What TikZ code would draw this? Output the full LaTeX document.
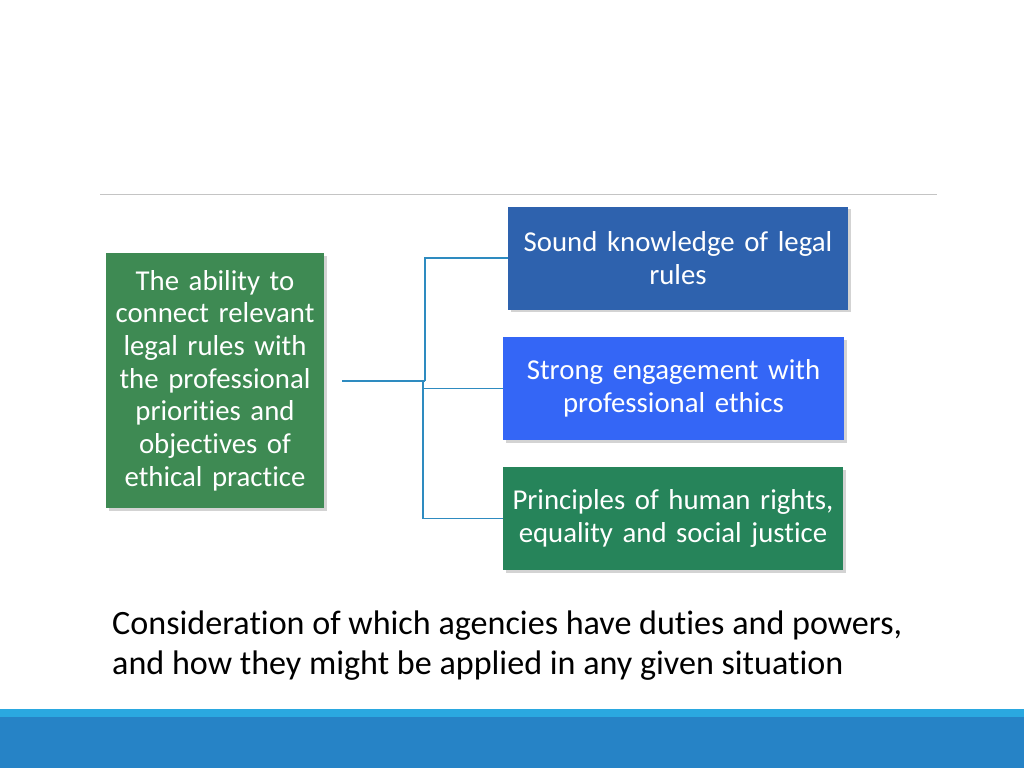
\documentclass[tikz,border=0pt]{standalone}
\usepackage{fontspec}
\setmainfont[RawFeature={-liga}]{Carlito}
\usetikzlibrary{shadows}

\definecolor{abilitygreen}{HTML}{3E8A53}
\definecolor{soundblue}{HTML}{2E62AE}
\definecolor{strongblue}{HTML}{3466F6}
\definecolor{rightsgreen}{HTML}{26845A}
\definecolor{linkblue}{HTML}{2E8BC0}
\definecolor{rulegray}{HTML}{C4C4C4}
\definecolor{stripblue}{HTML}{2AA8E0}
\definecolor{bandblue}{HTML}{2683C6}

\tikzset{
  box/.style={text=white, inner sep=0pt, align=center,
    font=\fontsize{28.8}{32.7}\selectfont,
    drop shadow={shadow xshift=2.5pt, shadow yshift=-2.5pt, opacity=0.35}},
  link/.style={linkblue, line width=1.4pt}
}

\begin{document}
\begin{tikzpicture}[x=1pt, y=-1pt]

\useasboundingbox ( 0, 0 ) rectangle ( 1024, 768 );

% Title rule
\draw [rulegray, line width=1pt] ( 100, 194 ) -- ( 937, 194 );

% Boxes
\node (ability) at ( 215, 380.5 ) [box, fill=abilitygreen,
  minimum width=218pt, minimum height=255pt, text width=215pt]
  {The ability to\\connect relevant\\legal rules with\\the professional\\priorities and\\objectives of\\ethical practice};
\node (sound) at ( 678, 258 ) [box, fill=soundblue,
  minimum width=340pt, minimum height=103pt, text width=336pt]
  {Sound knowledge of legal\\rules};
\node (strong) at ( 673.5, 388.5 ) [box, fill=strongblue,
  minimum width=341pt, minimum height=103pt, text width=336pt]
  {Strong engagement with\\professional ethics};
\node (rights) at ( 673, 518.5 ) [box, fill=rightsgreen,
  minimum width=340pt, minimum height=103pt, text width=336pt]
  {Principles of human rights,\\equality and social justice};

% Connectors
\coordinate (hub) at ( 425, 380.5 );
\draw [link, line width=2pt] ([xshift=18pt]ability.east) -- (hub);
\draw [link] (hub) |- (sound.west);
\draw [link] ([xshift=-2pt]hub) |- (strong.west);
\draw [link] ([xshift=-2pt]hub) |- (rights.west);

% Caption
\node (agencies) at ( 112, 646 ) [anchor=west, align=left, inner sep=0pt,
  font=\fontsize{34.1}{40}\selectfont]
  {Consideration of which agencies have duties and powers,\\and how they might be applied in any given situation};

% Footer band
\fill [stripblue] ( 0, 709 ) rectangle ( 1024, 717 );
\fill [bandblue] ( 0, 717 ) rectangle ( 1024, 768 );

\end{tikzpicture}
\end{document}
